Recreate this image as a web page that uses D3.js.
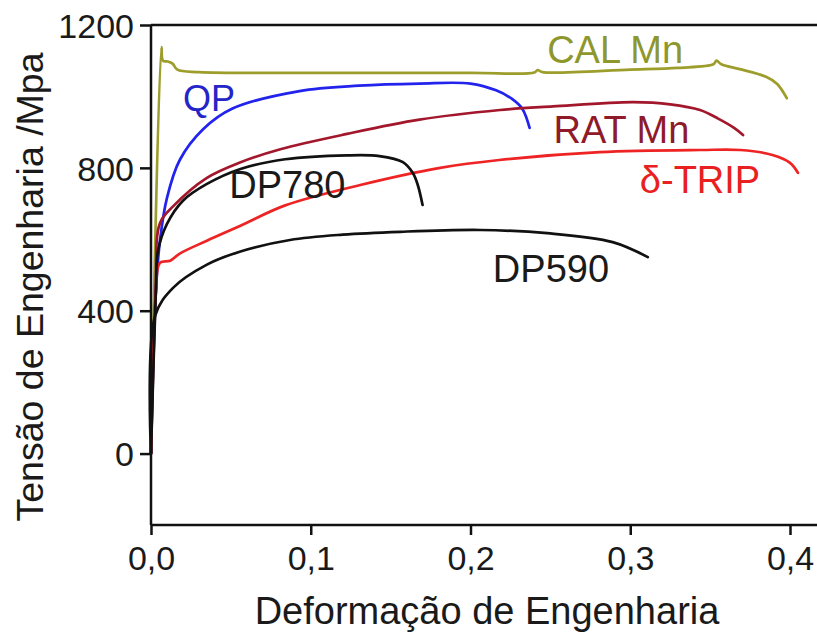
<!DOCTYPE html>
<html>
<head>
<meta charset="utf-8">
<script src="https://cdn.jsdelivr.net/npm/d3@7"></script>
<style>
  body { margin: 0; background: #fff; }
  svg { display: block; }
  text { font-family: "Liberation Sans", Arial, sans-serif; }
</style>
</head>
<body>
<svg id="chart" width="817" height="639"></svg>
<script>
// ---- data (strain, stress MPa) ----
const xTicks = [0, 0.1, 0.2, 0.3, 0.4];
const xTickLabels = ["0,0", "0,1", "0,2", "0,3", "0,4"];
const yTicks = [0, 400, 800, 1200];
const yTickLabels = ["0", "400", "800", "1200"];

const seriesNames = ["CAL Mn", "QP", "RAT Mn", "δ-TRIP", "DP780", "DP590"];

const calMn = [[0,0],[0.0065,1138],[0.0075,1100],[0.0105,1098],[0.0135,1092],[0.0165,1075],[0.03,1068],[0.1,1066],[0.2,1066],[0.24,1067],[0.242,1074],[0.245,1068],[0.3,1075],[0.33,1080],[0.352,1090],[0.354,1100],[0.357,1090],[0.37,1075],[0.385,1055],[0.392,1035],[0.398,995]];
const qp = [[0,0],[0.003,450],[0.0056,596],[0.01,716],[0.018,822],[0.0326,908],[0.051,966],[0.093,1015],[0.13,1030],[0.168,1036],[0.2,1036],[0.216,1017],[0.226,993],[0.2325,965],[0.237,912]];
const ratMn = [[0,0],[0.003,450],[0.0056,645],[0.0138,692],[0.035,772],[0.0557,815],[0.081,852],[0.1227,895],[0.168,935],[0.2185,962],[0.2516,972],[0.3017,984],[0.325,978],[0.3437,962],[0.355,938],[0.365,912],[0.3706,892]];
const dTrip = [[0,0],[0.003,450],[0.0056,534],[0.012,540],[0.018,560],[0.035,596],[0.056,638],[0.084,695],[0.131,752],[0.181,800],[0.218,822],[0.281,844],[0.344,850],[0.369,850],[0.389,836],[0.4,814],[0.405,786]];
const dp780 = [[0,0],[0.003,450],[0.0044,568],[0.01,643],[0.02,708],[0.035,755],[0.056,797],[0.084,824],[0.1227,835],[0.143,833],[0.1577,816],[0.164,785],[0.167,752],[0.170,696]];
const dp590 = [[0,0],[0.0025,385],[0.0138,464],[0.035,529],[0.056,566],[0.087,598],[0.12,613],[0.156,621],[0.206,626],[0.248,617],[0.289,592],[0.311,550]];

const seriesData = [calMn, qp, ratMn, dTrip, dp780, dp590];
const lineColors = ["#9d9d2c", "#2323ee", "#a3172c", "#ee2424", "#111111", "#111111"];
const textColors = ["#8e972c", "#2424c8", "#8e1a2a", "#e82020", "#1a1a1a", "#1a1a1a"];
// label anchor points in data coordinates
const labelX = [0.248, 0.02, 0.252, 0.306, 0.049, 0.214];
const labelY = [1095, 959, 870, 729, 715, 480];

// ---- chart ----
const svg = d3.select("#chart");
const x = d3.scaleLinear().domain([0, 0.4]).range([151, 790]);
const y = d3.scaleLinear().domain([-200, 1200]).range([525, 25]);

svg.append("line").attr("x1", 151).attr("x2", 817).attr("y1", y(1200)).attr("y2", y(1200))
  .attr("stroke", "#111").attr("stroke-width", 2.5);

const line = d3.line().x(d => x(d[0])).y(d => y(d[1])).curve(d3.curveCatmullRom.alpha(0.5));

seriesData.forEach((s, i) => {
  svg.append("path").datum(s).attr("d", line)
    .attr("fill", "none").attr("stroke", lineColors[i]).attr("stroke-width", 2.7)
    .attr("stroke-linejoin", "round").attr("stroke-linecap", "round");
});

const xAxis = d3.axisBottom(x).tickValues(xTicks).tickFormat((d, i) => xTickLabels[i]).tickSize(10).tickPadding(6);
const yAxis = d3.axisLeft(y).tickValues(yTicks).tickFormat((d, i) => yTickLabels[i]).tickSize(11).tickPadding(6);

const gx = svg.append("g").attr("transform", `translate(0,${y(-200)})`).call(xAxis);
gx.select(".domain").attr("d", `M151,0H817`);
const gy = svg.append("g").attr("transform", `translate(151,0)`).call(yAxis);
gy.select(".domain").attr("d", `M0,${y(1200)}V${y(-200)}`);

[gx, gy].forEach(g => {
  g.selectAll(".domain").attr("stroke", "#111").attr("stroke-width", 2.5);
  g.selectAll(".tick line").attr("stroke", "#111").attr("stroke-width", 2.5);
  g.selectAll(".tick text").attr("fill", "#1a1a1a").style("font-size", "34px")
    .style("font-family", '"Liberation Sans", Arial, sans-serif');
});
gx.selectAll(".tick text").attr("dy", "0.85em");
gy.selectAll(".tick text").attr("dy", "0.36em");

// axis titles
svg.append("text").attr("x", 487).attr("y", 624).attr("text-anchor", "middle")
  .style("font-size", "38px").attr("fill", "#1a1a1a").text("Deformação de Engenharia");
svg.append("text").attr("transform", "translate(43,287) rotate(-90)").attr("text-anchor", "middle")
  .style("font-size", "37.5px").attr("fill", "#1a1a1a").text("Tensão de Engenharia /Mpa");

// curve labels
seriesNames.forEach((n, i) => {
  svg.append("text").attr("x", x(labelX[i])).attr("y", y(labelY[i]))
    .style("font-size", i === 1 ? "36px" : "38px").attr("fill", textColors[i]).text(n);
});
</script>
</body>
</html>
